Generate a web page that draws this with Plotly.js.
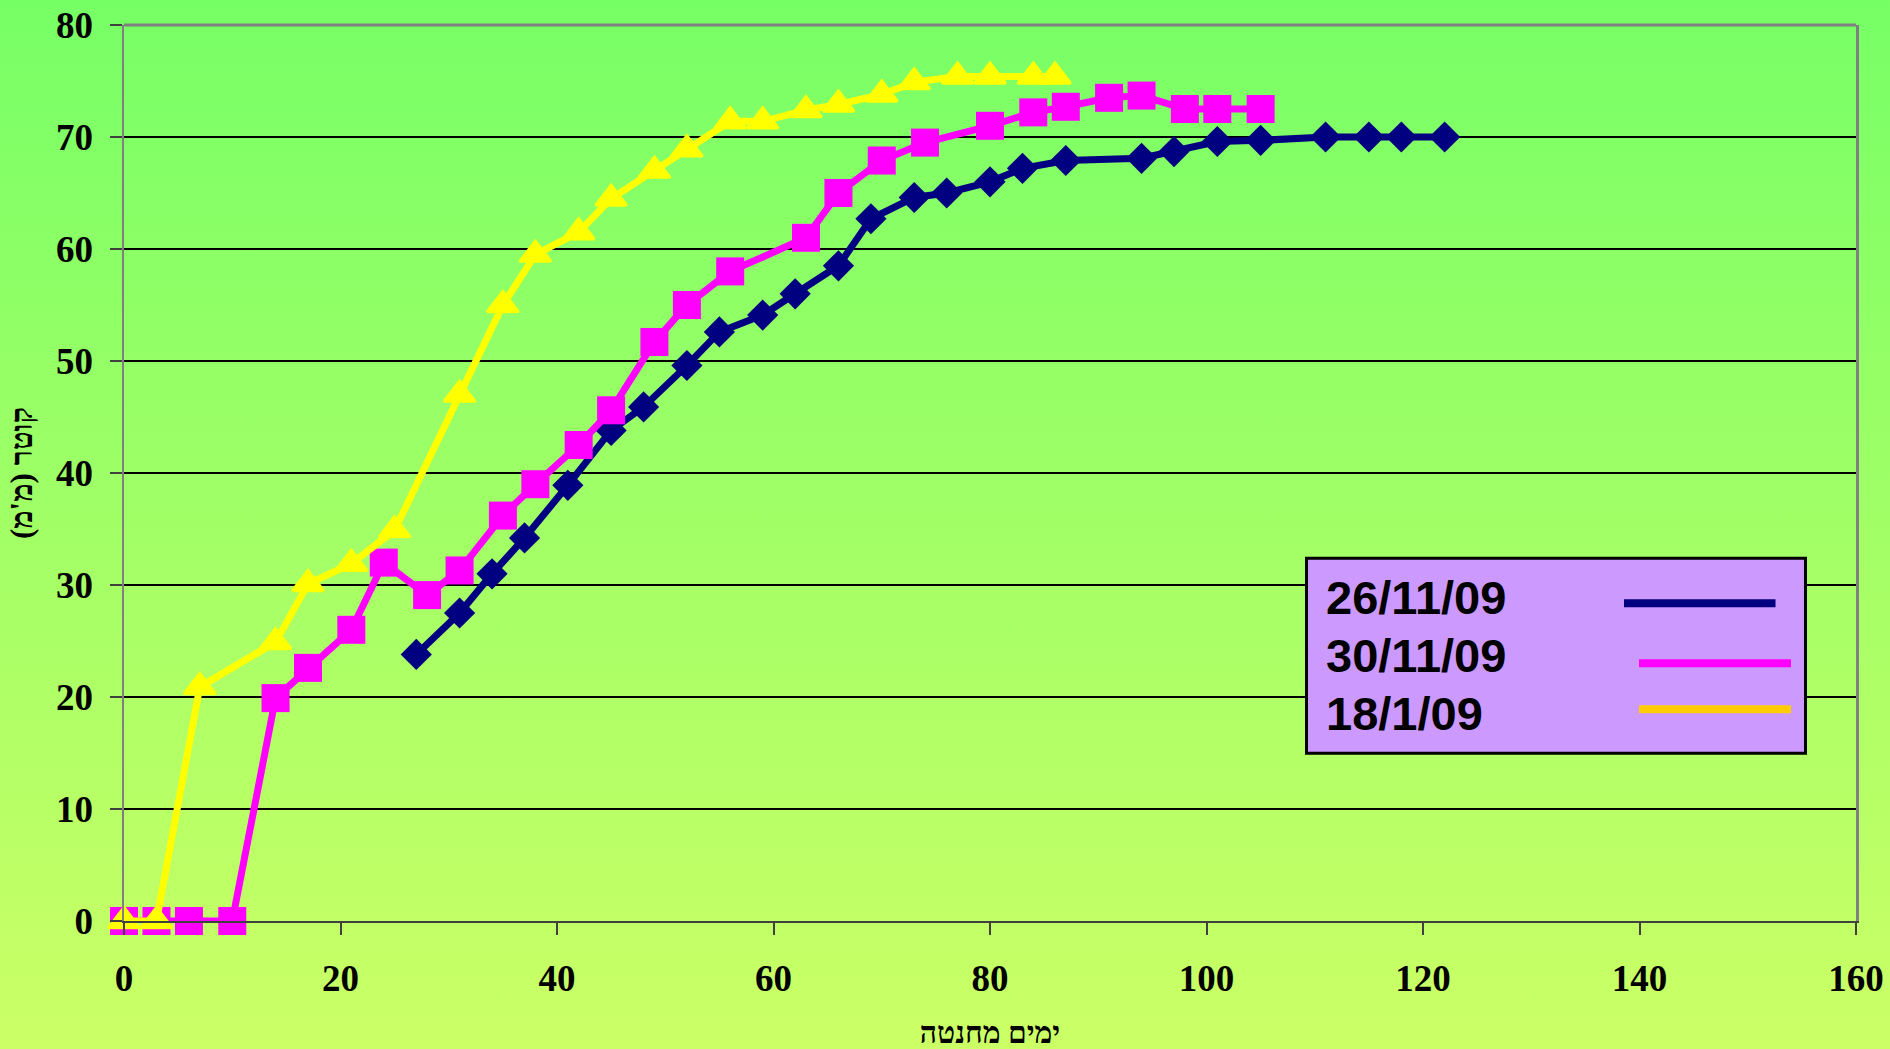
<!DOCTYPE html>
<html>
<head>
<meta charset="utf-8">
<script src="https://cdn.plot.ly/plotly-3.0.1.min.js"></script>
<style>
html, body { margin: 0; padding: 0; }
#chart { width: 1890px; height: 1049px; background: linear-gradient(to bottom, #77ff66 0%, #ccff66 100%); }
</style>
</head>
<body>
<div id="chart"></div>
<script>
// ---- Data ----
const seriesNames = ['26/11/09', '30/11/09', '18/1/09'];

const days2611 = [27, 31, 34, 37, 41, 45, 48, 52, 55, 59, 62, 66, 69, 73, 76, 80, 83, 87, 94, 97, 101, 105, 111, 115, 118, 122];
const diam2611 = [23.8, 27.5, 31, 34.2, 38.9, 43.8, 45.9, 49.6, 52.6, 54.1, 56.0, 58.5, 62.7, 64.6, 65.0, 66.0, 67.2, 67.9, 68.1, 68.7, 69.6, 69.7, 70, 70, 70, 70];

const days3011 = [0, 3, 6, 10, 14, 17, 21, 24, 28, 31, 35, 38, 42, 45, 49, 52, 56, 63, 66, 70, 74, 80, 84, 87, 91, 94, 98, 101, 105];
const diam3011 = [0, 0, 0, 0, 19.9, 22.6, 26.0, 32.0, 29.1, 31.3, 36.2, 39.0, 42.5, 45.6, 51.7, 55.0, 58.0, 61.0, 65.0, 67.9, 69.5, 71.0, 72.2, 72.7, 73.5, 73.7, 72.5, 72.5, 72.5];

const days1801 = [0, 3, 7, 14, 17, 21, 25, 31, 35, 38, 42, 45, 49, 52, 56, 59, 63, 66, 70, 73, 77, 80, 84, 86];
const diam1801 = [0, 0, 20.9, 24.9, 30.1, 31.9, 34.9, 47.0, 55.0, 59.5, 61.5, 64.5, 67.0, 68.9, 71.4, 71.4, 72.4, 72.9, 73.8, 74.9, 75.4, 75.4, 75.4, 75.4];

const xTickVals = [0, 20, 40, 60, 80, 100, 120, 140, 160];
const yTickVals = [0, 10, 20, 30, 40, 50, 60, 70, 80];
const xTitle = 'ימים מחנטה';
const yTitle = "קוטר (מ'מ)";

// ---- Styles ----
const lineColors = ['#000080', '#ff00ff', '#ffff00'];
const legendColors = ['#000080', '#ff00ff', '#ffcc00'];

const traces = [
  {
    x: days2611, y: diam2611, name: seriesNames[0], type: 'scatter', mode: 'lines+markers', cliponaxis: false,
    line: { color: lineColors[0], width: 7 },
    marker: { symbol: 'diamond', size: 24, color: lineColors[0] }
  },
  {
    x: days3011, y: diam3011, name: seriesNames[1], type: 'scatter', mode: 'lines+markers', cliponaxis: false,
    line: { color: lineColors[1], width: 7 },
    marker: { symbol: 'square', size: 28, color: lineColors[1] }
  },
  {
    x: days1801, y: diam1801, name: seriesNames[2], type: 'scatter', mode: 'lines+markers', cliponaxis: false,
    line: { color: lineColors[2], width: 7 },
    marker: { symbol: 'triangle-up', size: 27, color: lineColors[2], line: { color: lineColors[2], width: 3 } }
  }
];

// plot-area geometry in pixels (for legend placement)
const W = 1890, H = 1049;
const mL = 124, mR = 34, mT = 25, mB = 128;
const pw = W - mL - mR, ph = H - mT - mB;
const px = v => (v - mL) / pw;
const py = v => (H - mB - v) / ph;

const shapes = [
  // top border of plot area
  { type: 'line', xref: 'paper', yref: 'paper', x0: 0, x1: 1, y0: 1, y1: 1, line: { color: '#808080', width: 3 }, layer: 'above' },
  // legend box
  { type: 'rect', xref: 'paper', yref: 'paper', x0: px(1306.5), x1: px(1805.5), y0: py(753.3), y1: py(558.3),
    fillcolor: '#cc99ff', line: { color: '#000000', width: 3 }, layer: 'above' }
];
const legendLineX = [[1624, 1775.5], [1639, 1791], [1639, 1791]];
const legendLineY = [603.3, 663.3, 709.3];
const legendTextY = [597.5, 655.5, 713.5];
const annotations = [];
for (let i = 0; i < 3; i++) {
  shapes.push({ type: 'line', xref: 'paper', yref: 'paper',
    x0: px(legendLineX[i][0]), x1: px(legendLineX[i][1]), y0: py(legendLineY[i]), y1: py(legendLineY[i]),
    line: { color: legendColors[i], width: 8 }, layer: 'above' });
  annotations.push({ xref: 'paper', yref: 'paper', x: px(1324), y: py(legendTextY[i]),
    xanchor: 'left', yanchor: 'middle', showarrow: false, text: seriesNames[i],
    font: { family: 'Liberation Sans, Arial, sans-serif', size: 47, color: '#000000', weight: 'bold' } });
}

const tickFont = { family: 'Liberation Serif, Times New Roman, serif', size: 37, color: '#000000', weight: 'bold' };

const layout = {
  width: W, height: H,
  margin: { l: mL, r: mR, t: mT, b: mB, autoexpand: false },
  paper_bgcolor: 'rgba(0,0,0,0)',
  plot_bgcolor: 'rgba(0,0,0,0)',
  showlegend: false,
  xaxis: {
    range: [0, 160], tickvals: xTickVals, ticktext: xTickVals.map(String),
    showgrid: false, zeroline: false,
    showline: true, linecolor: '#404040', linewidth: 2,
    ticks: 'outside', ticklen: 12, tickwidth: 2, tickcolor: '#404040',
    ticklabelstandoff: 12,
    tickfont: tickFont,
    title: { text: xTitle, standoff: 40, font: { family: 'Liberation Serif, DejaVu Serif, serif', size: 30, color: '#000000', weight: 'bold' } }
  },
  yaxis: {
    range: [0, 80], tickvals: yTickVals, ticktext: yTickVals.map(String),
    showgrid: true, gridcolor: '#000000', gridwidth: 1.3,
    zeroline: false,
    showline: true, linecolor: '#808080', linewidth: 2.5, mirror: true,
    ticks: 'outside', ticklen: 12, tickwidth: 2, tickcolor: '#404040',
    ticklabelstandoff: 9,
    tickfont: tickFont,
    title: { text: yTitle, standoff: 14, font: { family: 'Liberation Serif, DejaVu Serif, serif', size: 31, color: '#000000', weight: 'bold' } }
  },
  shapes: shapes,
  annotations: annotations
};

Plotly.newPlot('chart', traces, layout, { displayModeBar: false, staticPlot: true });
</script>
</body>
</html>
